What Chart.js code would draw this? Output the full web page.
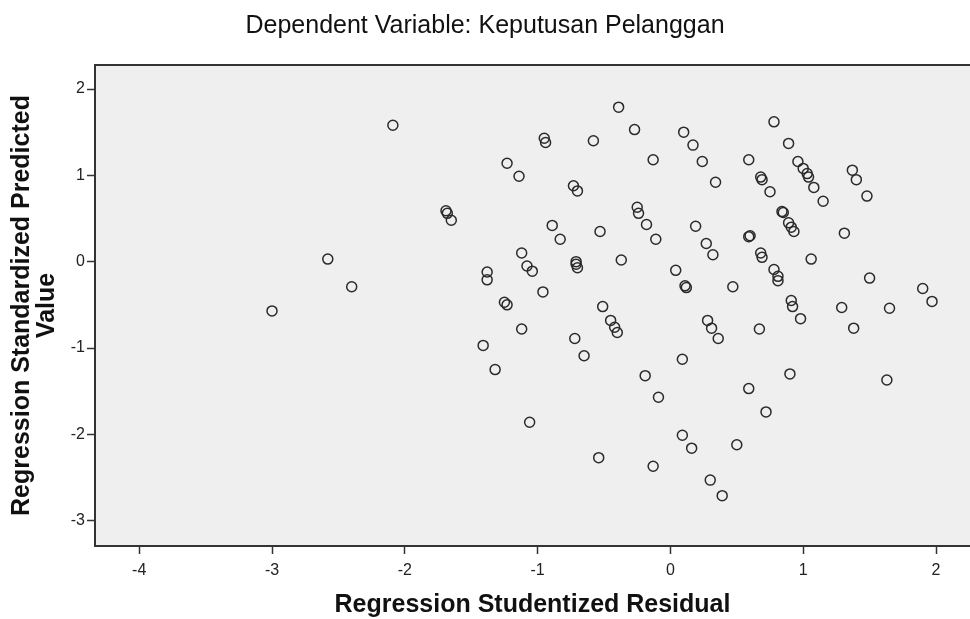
<html lang="en">
    <head>
        <meta charset="UTF-8">
        <title>Dependent Variable: Keputusan Pelanggan</title>
        <script src="https://cdn.jsdelivr.net/npm/chart.js"></script>
        <style>
            body {
                margin: 0;
                padding: 0;
                background-color: #fff;
            }
        </style>
    </head>

    <body>
        <canvas id="residChart" width="970" height="619"></canvas>

        <script>
            // Regression Studentized Residual (x)
            const residuals = [
                -3.00, -2.58, -2.40, -2.09, -1.69, -1.68, -1.65, -1.23, -1.14, -0.95,
                -0.94, -1.12, -1.08, -1.04, -1.38, -1.38, -0.96, -1.25, -1.23, -1.12,
                -1.41, -1.32, -1.06, -0.39, -0.27, -0.58, 0.10, 0.17, 0.24, -0.13,
                0.34, -0.73, -0.70, -0.25, -0.24, -0.18, -0.11, 0.19, 0.27, 0.32,
                -0.89, -0.83, -0.53, -0.71, -0.70, -0.71, -0.37, 0.04, 0.12, 0.11,
                0.47, -0.51, -0.45, -0.42, -0.40, -0.72, -0.65, 0.28, 0.31, 0.36,
                0.09, -0.19, -0.09, 0.09, 0.16, 0.50, -0.54, -0.13, 0.30, 0.39,
                0.78, 0.89, 0.59, 0.96, 1.00, 1.03, 1.04, 1.08, 1.15, 1.37,
                1.40, 1.48, 0.68, 0.69, 0.75, 0.84, 0.85, 0.89, 0.91, 0.93,
                1.31, 0.59, 0.60, 0.68, 0.69, 1.06, 0.78, 0.81, 0.81, 1.50,
                1.90, 1.97, 0.91, 0.92, 0.98, 1.29, 1.65, 0.67, 1.38, 0.90,
                1.63, 0.59, 0.72
            ];

            // Regression Standardized Predicted Value (y)
            const predicted = [
                -0.57, 0.03, -0.29, 1.58, 0.59, 0.56, 0.48, 1.14, 0.99, 1.43,
                1.38, 0.10, -0.05, -0.11, -0.12, -0.21, -0.35, -0.47, -0.50, -0.78,
                -0.97, -1.25, -1.86, 1.79, 1.53, 1.40, 1.50, 1.35, 1.16, 1.18,
                0.92, 0.88, 0.82, 0.63, 0.56, 0.43, 0.26, 0.41, 0.21, 0.08,
                0.42, 0.26, 0.35, -0.03, -0.07, 0.00, 0.02, -0.10, -0.30, -0.28,
                -0.29, -0.52, -0.68, -0.76, -0.82, -0.89, -1.09, -0.68, -0.77, -0.89,
                -1.13, -1.32, -1.57, -2.01, -2.16, -2.12, -2.27, -2.37, -2.53, -2.71,
                1.62, 1.37, 1.18, 1.16, 1.08, 1.02, 0.98, 0.86, 0.70, 1.06,
                0.95, 0.76, 0.98, 0.95, 0.81, 0.58, 0.57, 0.45, 0.40, 0.35,
                0.33, 0.29, 0.30, 0.10, 0.05, 0.03, -0.09, -0.17, -0.22, -0.19,
                -0.31, -0.46, -0.45, -0.52, -0.66, -0.53, -0.54, -0.78, -0.77, -1.30,
                -1.37, -1.47, -1.74
            ];

            const xTickValues = [-4, -3, -2, -1, 0, 1, 2];
            const yTickValues = [-3, -2, -1, 0, 1, 2];

            const fontFamily = '"Liberation Sans", Arial, sans-serif';
            const frameColor = '#333';

            // grey plot background + top edge of the frame
            const plotFrame = {
                id: 'plotFrame',
                beforeDraw(chart) {
                    const a = chart.chartArea;
                    const ctx = chart.ctx;
                    ctx.save();
                    ctx.fillStyle = '#efefef';
                    ctx.fillRect(a.left, a.top, a.right - a.left, a.bottom - a.top);
                    ctx.restore();
                },
                afterDraw(chart) {
                    const a = chart.chartArea;
                    const ctx = chart.ctx;
                    ctx.save();
                    ctx.strokeStyle = frameColor;
                    ctx.lineWidth = 2;
                    ctx.beginPath();
                    ctx.moveTo(a.left, a.top);
                    ctx.lineTo(a.right, a.top);
                    ctx.stroke();
                    ctx.restore();
                }
            };

            const points = residuals.map((x, i) => ({ x: x, y: predicted[i] }));

            new Chart(document.getElementById('residChart').getContext('2d'), {
                type: 'scatter',
                data: {
                    datasets: [{
                        label: 'Residuals',
                        data: points,
                        pointStyle: 'circle',
                        pointRadius: 5,
                        pointBorderWidth: 1.5,
                        pointBorderColor: '#2a2a2a',
                        pointBackgroundColor: 'rgba(0,0,0,0)'
                    }]
                },
                options: {
                    responsive: false,
                    animation: false,
                    layout: { padding: 0, autoPadding: false },
                    plugins: {
                        legend: { display: false },
                        tooltip: { enabled: false },
                        title: {
                            display: true,
                            text: 'Dependent Variable: Keputusan Pelanggan',
                            color: '#111',
                            font: { family: fontFamily, size: 25, weight: 'normal', lineHeight: 1.2 },
                            padding: { top: 11, bottom: 24 }
                        }
                    },
                    scales: {
                        x: {
                            type: 'linear',
                            min: -4.333,
                            max: 2.256,
                            afterBuildTicks: scale => { scale.ticks = xTickValues.map(v => ({ value: v })); },
                            afterFit: scale => {
                                scale.height = 73;
                                scale.paddingLeft = 0;
                                scale.paddingRight = 0;
                            },
                            grid: {
                                drawOnChartArea: false,
                                drawTicks: true,
                                tickLength: 8,
                                tickColor: frameColor,
                                tickWidth: 1.5
                            },
                            border: { display: true, color: frameColor, width: 2 },
                            ticks: {
                                color: '#222',
                                padding: 7,
                                maxRotation: 0,
                                font: { family: fontFamily, size: 16 },
                                callback: v => String(v)
                            },
                            title: {
                                display: true,
                                text: 'Regression Studentized Residual',
                                color: '#111',
                                font: { family: fontFamily, size: 25, weight: 'bold', lineHeight: 1.0 },
                                padding: { top: 0, bottom: 1 }
                            }
                        },
                        y: {
                            type: 'linear',
                            min: -3.293,
                            max: 2.278,
                            afterBuildTicks: scale => { scale.ticks = yTickValues.map(v => ({ value: v })); },
                            afterFit: scale => { scale.width = 95; },
                            grid: {
                                drawOnChartArea: false,
                                drawTicks: true,
                                tickLength: 8,
                                tickColor: frameColor,
                                tickWidth: 1.5
                            },
                            border: { display: true, color: frameColor, width: 2 },
                            ticks: {
                                color: '#222',
                                padding: 2,
                                font: { family: fontFamily, size: 16 },
                                callback: v => String(v)
                            },
                            title: {
                                display: true,
                                text: ['Regression Standardized Predicted', 'Value'],
                                color: '#111',
                                font: { family: fontFamily, size: 25, weight: 'bold', lineHeight: 0.98 },
                                padding: { top: 10, bottom: 0 }
                            }
                        }
                    }
                },
                plugins: [plotFrame]
            });
        </script>
    </body>
</html>
